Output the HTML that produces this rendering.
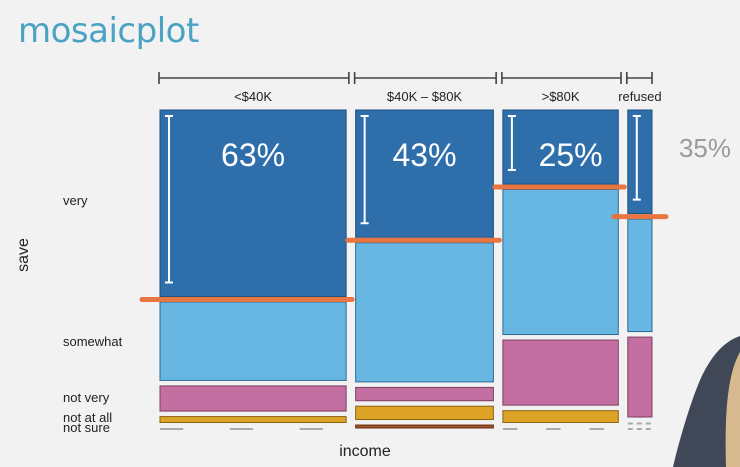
<!DOCTYPE html>
<html><head><meta charset="utf-8">
<style>
html,body{margin:0;padding:0;background:#f2f2f3;}
body{width:740px;height:467px;overflow:hidden;position:relative;font-family:"Liberation Sans",sans-serif;}
svg{position:absolute;left:0;top:0;}
</style></head>
<body>
<svg id="chart" width="740" height="467" viewBox="0 0 740 467">
  <rect x="0" y="0" width="740" height="467" fill="#f2f2f3"/>
  <text x="18" y="42" font-size="34" fill="#4aa3c2" font-family="DejaVu Sans, Liberation Sans, sans-serif" letter-spacing="-0.5">mosaicplot</text>
  <g id="marks"></g>
  <g id="labels" font-size="13" fill="#222"></g>
  <text x="365" y="456" font-size="16" text-anchor="middle" fill="#222">income</text>
  <text transform="translate(28,255) rotate(-90)" font-size="16" text-anchor="middle" fill="#222">save</text>
  <g id="annot"></g>
  <path d="M740 336 C722 342 708 360 698 385 C688 410 678 445 673 467 L740 467 Z" fill="#404857"/>
  <path d="M740 352 C730 370 724 400 726 467 L740 467 Z" fill="#d6b98e"/>
</svg>
<script>
const categories = ["<$40K", "$40K \u2013 $80K", ">$80K", "refused"];
const colShares = [0.40, 0.296, 0.248, 0.052];
const rowLevels = ["very", "somewhat", "not very", "not at all", "not sure"];
const pVery = [0.63, 0.43, 0.25, 0.35];
const pSomewhat = [0.265, 0.47, 0.49, 0.38];
const pNotVery = [0.085, 0.045, 0.22, 0.27];
const pNotAtAll = [0.02, 0.045, 0.04, 0];
const pNotSure = [0, 0.01, 0, 0];
const annotations = ["63%", "43%", "25%", "35%"];

const fills = ["#2e6fab", "#67b7e2", "#c46fa1", "#dca326", "#a0522d"];
const strokes = ["#1f4f7e", "#2c6a94", "#7b3f63", "#8a6512", "#6a3010"];
const X0 = 160, X1 = 652, COLGAP = 9.5, Y0 = 110, Y1 = 428, ROWGAP = 5.5;
const NS = "http://www.w3.org/2000/svg";
const marks = document.getElementById("marks");
const labels = document.getElementById("labels");
const annot = document.getElementById("annot");
function mk(tag, attrs, parent){const e=document.createElementNS(NS,tag);for(const k in attrs)e.setAttribute(k,attrs[k]);parent.appendChild(e);return e;}

const rows = [pVery, pSomewhat, pNotVery, pNotAtAll, pNotSure];
const totalW = X1 - X0 - COLGAP*(categories.length-1);
const shareSum = colShares.reduce((a,b)=>a+b,0);
function xScale(i){let x=X0;for(let k=0;k<i;k++)x+=colShares[k]/shareSum*totalW+COLGAP;return x;}
function wScale(i){return colShares[i]/shareSum*totalW;}
const usableH = Y1 - Y0 - ROWGAP*(rowLevels.length-1);
const colGeom = [];
for(let c=0;c<categories.length;c++){
  const x=xScale(c), w=wScale(c);
  let colSum=0; for(let r=0;r<rows.length;r++) colSum+=rows[r][c];
  let y=Y0; const g=[];
  for(let r=0;r<rows.length;r++){
    const h=rows[r][c]/colSum*usableH;
    if(h<0.5){
      const ln=mk("line",{x1:x,x2:x+w,y1:y+1,y2:y+1,stroke:"#aaa","stroke-width":2,"stroke-dasharray": w>50? (w/8)+" "+(w/4): "5 4"},marks);
      
      
    } else {
      const rc=mk("rect",{x:x,y:y,width:w,height:h,fill:fills[r],stroke:strokes[r],"stroke-width":1},marks);
      
      
    }
    g.push([y,h]);
    y+=h+ROWGAP;
  }
  colGeom.push({x,w,g});
  const t=mk("text",{x:x+w/2,y:101,"text-anchor":"middle","font-size":13,fill:"#222"},labels);
  t.textContent=categories[c];
  
  
  const bx0=x-1, bx1=x+w+ (c<categories.length-1? COLGAP/2-2: 0);
  const br=mk("path",{d:`M${bx0} 72 V84 M${bx0} 78 H${bx1} M${bx1} 72 V84`,stroke:"#444","stroke-width":1.6,fill:"none"},annot);
  
  
}
const yLab=[205,346,402,422,432];
for(let r=0;r<rowLevels.length;r++){
  const t=mk("text",{x:63,y:yLab[r],"font-size":13,fill:"#222"},labels);
  t.textContent=rowLevels[r];
  
  
}
for(let c=0;c<categories.length;c++){
  const {x,w,g}=colGeom[c];
  const yEnd=g[0][0]+g[0][1];
  const vx=x+8;
  const v=mk("path",{d:`M${vx-3} ${Y0+6} H${vx+5} M${vx+1} ${Y0+6} V${yEnd-14} M${vx-3} ${yEnd-14} H${vx+5}`,stroke:"#fff","stroke-width":2,fill:"none"},annot);
  
  
  const ol=mk("line",{x1:x-(c==0?18:(c==3?14:8)),x2:x+w+(c==3?14:6),y1:yEnd+3,y2:yEnd+3,stroke:"#e8703a","stroke-width":5,"stroke-linecap":"round",opacity:0.95},annot);
  
  
  const isOut=c==3;
  const tx=isOut?705:x+w/2+ (c==2?10:0);
  const t=mk("text",{x:tx,y:isOut?157:166,"text-anchor":"middle","font-size":isOut?26:32,fill:isOut?"#9a9a9a":"#fff","font-family":"Liberation Sans, sans-serif"},annot);
  t.textContent=annotations[c];
  
  
}
</script>
</body></html>
